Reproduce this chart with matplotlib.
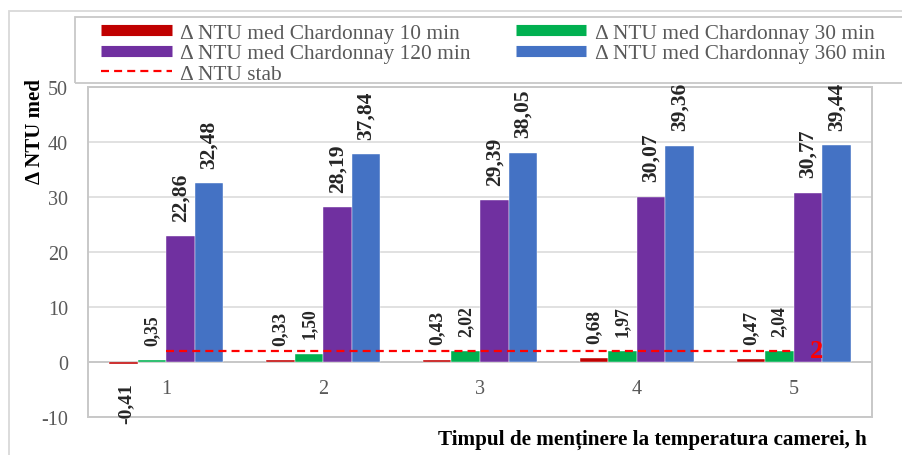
import numpy as np
import matplotlib
matplotlib.use("Agg")
import matplotlib.pyplot as plt
from matplotlib.lines import Line2D
from matplotlib.patches import Rectangle

plt.rcParams['font.family'] = ['Liberation Serif', 'DejaVu Serif']
plt.rcParams['axes.unicode_minus'] = False

# date
categorii = ['1', '2', '3', '4', '5']
ntu_10 = [-0.41, 0.33, 0.43, 0.68, 0.47]
ntu_30 = [0.35, 1.50, 2.02, 1.97, 2.04]
ntu_120 = [22.86, 28.19, 29.39, 30.07, 30.77]
ntu_360 = [32.48, 37.84, 38.05, 39.36, 39.44]
ntu_stab = [2, 2, 2, 2, 2]

serii = [
    ('Δ NTU med Chardonnay 10 min', ntu_10, '#C00000', 14),
    ('Δ NTU med Chardonnay 30 min', ntu_30, '#00B050', 12.7),
    ('Δ NTU med Chardonnay 120 min', ntu_120, '#7030A0', 15.5),
    ('Δ NTU med Chardonnay 360 min', ntu_360, '#4472C4', 15.5),
]

W, H = 902, 456
fig = plt.figure(figsize=(W / 100, H / 100), dpi=100)
ax = fig.add_axes([88 / W, 1 - 418 / H, (872 - 88) / W, (418 - 88) / H])

gri = '#595959'
linii = '#D9D9D9'

x = np.arange(len(categorii))
w = 0.182
for i, (nume, val, cul, fs) in enumerate(serii):
    pos = x + (i - 1.5) * w
    ax.bar(pos, val, w, color=cul, edgecolor='white', linewidth=0.3, zorder=3)
    for px, v in zip(pos, val):
        txt = f"{v:.2f}".replace('.', ',')
        if v >= 0:
            ax.annotate(txt, (px, v), xytext=(0, 11), textcoords='offset points',
                        rotation=90, ha='center', va='bottom', fontsize=fs,
                        fontweight='bold', color='#262626', zorder=5)
        else:
            ax.annotate(txt, (px, v), xytext=(2, -13), textcoords='offset points',
                        rotation=90, ha='center', va='top', fontsize=fs,
                        fontweight='bold', color='#262626', zorder=5)

# linia de stabilitate
ax.plot(x, ntu_stab, color='red', lw=1.6, dashes=(3.6, 2.3), zorder=4)
ax.annotate(str(ntu_stab[-1]), (x[-1], ntu_stab[-1]), xytext=(12, 0),
            textcoords='offset points', ha='left', va='center',
            fontsize=19, fontweight='bold', color='red', zorder=6)

ax.set_xlim(-0.5, 4.5)
ax.set_ylim(-10, 50)
ax.set_yticks(range(-10, 51, 10))
ax.tick_params(axis='y', length=0, pad=14.4, labelsize=14.5, labelcolor=gri)
ax.set_xticks([])
ax.yaxis.grid(True, color=linii, lw=1.1, zorder=0)
ax.axhline(0, color='#C8C8C8', lw=1.4, zorder=2)
for s in ax.spines.values():
    s.set_color('#C8C8C8')
    s.set_linewidth(1.4)

# etichete categorii langa axa 0
for xi, c in zip(x, categorii):
    ax.text(xi, -4.9, c, ha='center', va='center', fontsize=14.5, color=gri)

fig.text(35 / W, 1 - 132 / H, 'Δ NTU med', rotation=90, ha='center', va='center',
         fontsize=15, fontweight='bold', color='black')
fig.text(867 / W, 1 - 440 / H, 'Timpul de menținere la temperatura camerei, h',
         ha='right', va='center', fontsize=15.2, fontweight='bold', color='black')

# chenar exterior si chenar legenda
fig.patches.append(Rectangle((9 / W, -0.1), 1.2, 1 - 12 / H + 0.1, transform=fig.transFigure,
                             fill=False, edgecolor=linii, lw=1.3))
fig.patches.append(Rectangle((75 / W, 1 - 84 / H), 1.2, 66 / H, transform=fig.transFigure,
                             fill=False, edgecolor='#C8C8C8', lw=1.3))

h = [Line2D([], [], color=serii[0][2], lw=8, solid_capstyle='butt'),
     Line2D([], [], color=serii[2][2], lw=8, solid_capstyle='butt'),
     Line2D([], [], color='red', lw=1.6, dashes=(3.6, 2.3)),
     Line2D([], [], color=serii[1][2], lw=8, solid_capstyle='butt'),
     Line2D([], [], color=serii[3][2], lw=8, solid_capstyle='butt')]
lab = [serii[0][0], serii[2][0], 'Δ NTU stab', serii[1][0], serii[3][0]]
leg = fig.legend(h, lab, ncol=2, loc='upper left', bbox_to_anchor=(101 / W, 1 - 24 / H),
                 frameon=False, fontsize=15.4, handlelength=3.3, handletextpad=0.4,
                 columnspacing=2.1, labelspacing=0.02, borderpad=0, borderaxespad=0)
for t in leg.get_texts():
    t.set_color(gri)

fig.savefig('out.png', dpi=100)
